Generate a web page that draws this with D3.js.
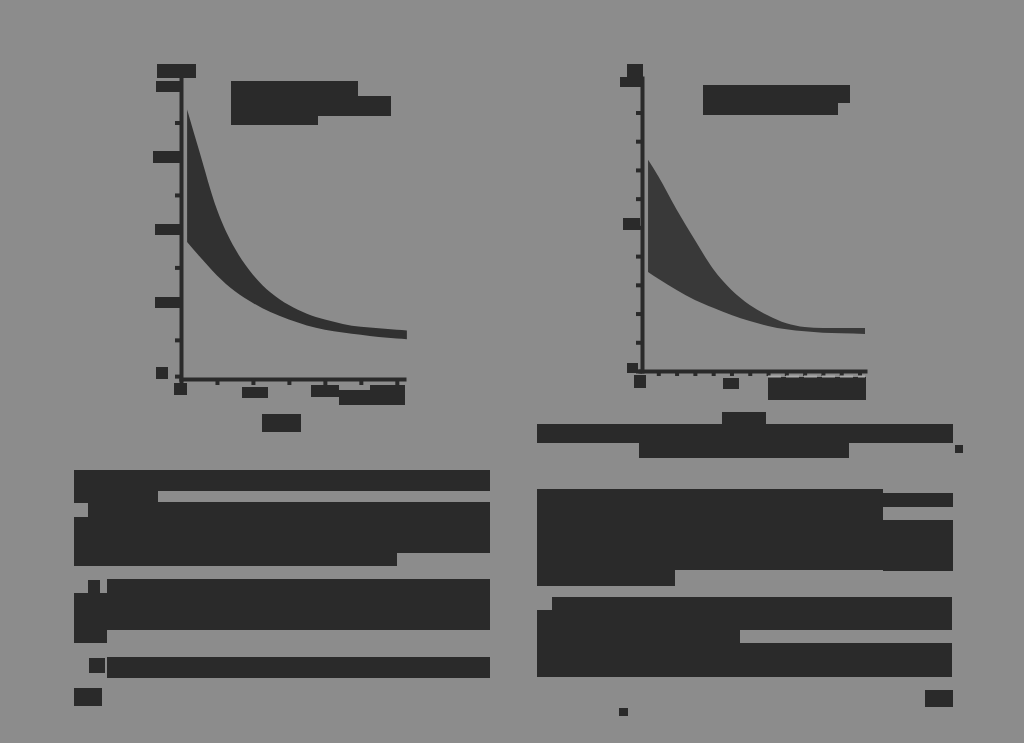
<!DOCTYPE html>
<html>
<head>
<meta charset="utf-8">
<script src="https://cdn.jsdelivr.net/npm/d3@7/dist/d3.min.js"></script>
<style>
  html, body { margin: 0; padding: 0; background: #8c8c8c; }
  svg { display: block; }
</style>
</head>
<body>
<svg id="chart" width="1024" height="743"></svg>
<script>
// ---------- data ----------
// Left panel: shaded band between an upper and a lower decaying curve
const xs1    = [0.17, 0.5, 1, 1.5, 2, 2.5, 3, 3.5, 4, 4.5, 5, 5.5, 6, 6.28];
const upper1 = [3.68, 3.12, 2.30, 1.76, 1.40, 1.15, 0.98, 0.86, 0.78, 0.72, 0.68, 0.66, 0.64, 0.63];
const lower1 = [1.85, 1.66, 1.39, 1.17, 1.01, 0.88, 0.78, 0.70, 0.64, 0.60, 0.57, 0.54, 0.52, 0.51];
const yTicks1 = [0, 0.5, 1, 1.5, 2, 2.5, 3, 3.5, 4];
const xTicks1 = [0, 1, 2, 3, 4, 5, 6];

// Right panel
const xs2    = [0.44, 1, 2, 3, 4, 5, 6, 7, 8, 9, 10, 11, 12.3];
const upper2 = [7.35, 6.78, 5.62, 4.56, 3.55, 2.82, 2.30, 1.93, 1.66, 1.53, 1.50, 1.50, 1.50];
const lower2 = [3.45, 3.21, 2.82, 2.47, 2.20, 1.95, 1.74, 1.57, 1.45, 1.38, 1.33, 1.31, 1.29];
const yTicks2 = [0, 1, 2, 3, 4, 5, 6, 7, 8, 9, 10];
const xTicks2 = [1, 2, 3, 4, 5, 6, 7, 8, 9, 10, 11, 12];

// ---------- styling / layout ----------
const INK = "#2a2a2a";
const BAND1 = "#313131";
const BAND2 = "#393939";

// Redaction blocks covering the page's text (layout only: x, y, w, h)
const redactions = [
  // left panel labels
  [157,64,39,14],[156,81,25,11],[153,151,28,12],[155,224,26,11],[155,297,26,11],[156,367,12,12],
  [174,383,13,12],[242,387,26,11],[311,385,28,12],[339,390,66,15],[370,385,35,8],[262,414,39,18],
  [231,81,127,35],[231,96,160,20],[231,116,87,9],
  // right panel labels
  [627,64,16,14],[620,77,23,10],[623,218,17,12],[627,363,11,10],[634,375,12,13],[723,378,16,11],
  [768,377,98,23],[703,85,147,18],[703,85,135,30],
  // left text column
  [74,470,416,21],[74,491,84,12],[88,502,402,51],[74,517,263,49],[74,537,323,29],
  [107,579,383,51],[74,593,33,50],[88,580,12,13],[107,657,383,21],[89,658,16,15],[74,688,28,18],
  // right text column
  [722,412,44,14],[537,424,416,19],[639,443,210,15],[955,445,8,8],
  [537,489,346,81],[883,493,70,14],[883,520,70,51],[537,570,138,16],
  [552,597,400,33],[537,610,203,35],[537,643,415,34],[925,690,28,17],[619,708,9,8]
];

const svg = d3.select("#chart");

// ---------- left panel ----------
const x1 = d3.scaleLinear().domain([0, 6.2]).range([181, 404]);
const y1 = d3.scaleLinear().domain([-0.04, 4.1]).range([379, 79]);

const band1 = xs1.map((x, i) => ({x, lo: lower1[i], hi: upper1[i]}));
svg.append("path")
  .datum(band1)
  .attr("fill", BAND1)
  .attr("d", d3.area()
    .x(d => x1(d.x)).y0(d => y1(d.lo)).y1(d => y1(d.hi))
    .curve(d3.curveMonotoneX));

function styleAxis(g) {
  g.select(".domain").attr("stroke", INK).attr("stroke-width", 4).attr("stroke-linecap", "square");
  g.selectAll(".tick line").attr("stroke", INK).attr("stroke-width", 4);
  g.selectAll(".tick text").remove();
}

svg.append("g")
  .attr("transform", `translate(${x1(0)},0)`)
  .call(d3.axisLeft(y1).tickValues(yTicks1).tickSize(6).tickSizeOuter(0).tickFormat(""))
  .call(styleAxis);

svg.append("g")
  .attr("transform", `translate(0,${y1(-0.04)})`)
  .call(d3.axisBottom(x1).tickValues(xTicks1).tickSize(6).tickSizeOuter(0).tickFormat(""))
  .call(styleAxis);

// ---------- right panel ----------
const x2 = d3.scaleLinear().domain([0, 12.3]).range([640, 865]);
const y2 = d3.scaleLinear().domain([0, 10.2]).range([371, 78]);

const band2 = xs2.map((x, i) => ({x, lo: lower2[i], hi: upper2[i]}));
svg.append("path")
  .datum(band2)
  .attr("fill", BAND2)
  .attr("d", d3.area()
    .x(d => x2(d.x)).y0(d => y2(d.lo)).y1(d => y2(d.hi))
    .curve(d3.curveMonotoneX));

svg.append("g")
  .attr("transform", `translate(${x2(0) + 2},0)`)
  .call(d3.axisLeft(y2).tickValues(yTicks2).tickSize(6).tickSizeOuter(0).tickFormat(""))
  .call(styleAxis);

svg.append("g")
  .attr("transform", `translate(0,${y2(0)})`)
  .call(d3.axisBottom(x2).tickValues(xTicks2).tickSize(5).tickSizeOuter(0).tickFormat(""))
  .call(styleAxis);

// ---------- redaction blocks ----------
svg.append("g").selectAll("rect")
  .data(redactions)
  .join("rect")
  .attr("x", d => d[0]).attr("y", d => d[1])
  .attr("width", d => d[2]).attr("height", d => d[3])
  .attr("fill", INK);

// light dashed strip above the large block under the right x axis
svg.append("line")
  .attr("x1", 768).attr("x2", 865)
  .attr("y1", y2(0) + 5.5).attr("y2", y2(0) + 5.5)
  .attr("stroke", "#a9a9a9").attr("stroke-width", 2)
  .attr("stroke-dasharray", "13,5");
</script>
</body>
</html>
